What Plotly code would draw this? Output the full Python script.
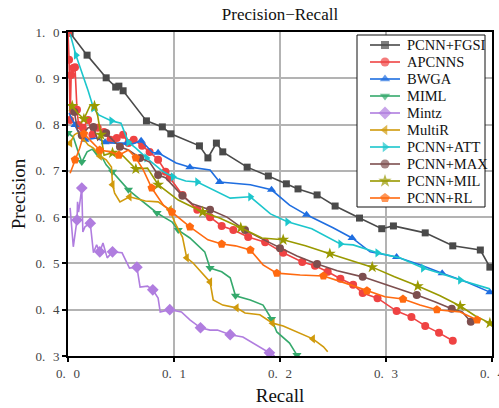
import plotly.graph_objects as go

# ---------------- data ----------------
recall_fgsi = [0.002, 0.018, 0.036, 0.045, 0.048, 0.052, 0.074, 0.089, 0.097, 0.124, 0.132, 0.140,
               0.146, 0.169, 0.189, 0.206, 0.217, 0.235, 0.252, 0.275, 0.296, 0.307, 0.337, 0.363,
               0.389, 0.398]
precision_fgsi = [0.998, 0.950, 0.901, 0.881, 0.883, 0.873, 0.808, 0.795, 0.780, 0.754, 0.728, 0.760,
                  0.741, 0.708, 0.689, 0.672, 0.661, 0.648, 0.624, 0.598, 0.575, 0.581, 0.566, 0.538,
                  0.529, 0.492]

recall_apcnns = [0.000, 0.001, 0.002, 0.003, 0.005, 0.0066, 0.0085, 0.010, 0.014, 0.019, 0.023, 0.028,
                 0.034, 0.040, 0.046, 0.052, 0.057, 0.062, 0.070, 0.077, 0.085, 0.092, 0.096, 0.108,
                 0.122, 0.134, 0.145, 0.156, 0.170, 0.186, 0.203, 0.221, 0.233, 0.245, 0.257, 0.269,
                 0.278, 0.292, 0.310, 0.324, 0.337, 0.350, 0.363]
precision_apcnns = [0.998, 0.940, 0.810, 0.907, 0.922, 0.924, 0.832, 0.799, 0.793, 0.810, 0.778, 0.793,
                    0.784, 0.767, 0.771, 0.778, 0.760, 0.767, 0.754, 0.741, 0.724, 0.698, 0.685, 0.648,
                    0.616, 0.600, 0.581, 0.572, 0.557, 0.546, 0.523, 0.503, 0.495, 0.482, 0.467, 0.454,
                    0.436, 0.425, 0.397, 0.384, 0.365, 0.350, 0.333]

recall_bwga = [0.001, 0.0066, 0.011, 0.016, 0.027, 0.035, 0.044, 0.056, 0.061, 0.069, 0.080, 0.085,
               0.102, 0.115, 0.134, 0.143, 0.172, 0.192, 0.209, 0.225, 0.250, 0.268, 0.285, 0.310,
               0.332, 0.353, 0.376, 0.398]
precision_bwga = [0.825, 0.799, 0.778, 0.767, 0.771, 0.762, 0.760, 0.760, 0.758, 0.765, 0.739, 0.739,
                  0.717, 0.708, 0.702, 0.676, 0.670, 0.659, 0.626, 0.605, 0.577, 0.555, 0.525, 0.514,
                  0.497, 0.479, 0.460, 0.438]

recall_miml = [0.000, 0.005, 0.009, 0.013, 0.018, 0.023, 0.027, 0.032, 0.036, 0.042, 0.047, 0.051,
               0.057, 0.065, 0.075, 0.084, 0.092, 0.098, 0.104, 0.115, 0.129, 0.134, 0.145, 0.153,
               0.158, 0.172, 0.184, 0.192, 0.197, 0.209, 0.216]
precision_miml = [0.782, 0.773, 0.745, 0.719, 0.741, 0.747, 0.741, 0.730, 0.713, 0.698, 0.685, 0.674,
                  0.659, 0.644, 0.626, 0.609, 0.598, 0.590, 0.572, 0.555, 0.525, 0.490, 0.482, 0.469,
                  0.430, 0.421, 0.410, 0.380, 0.352, 0.328, 0.302]

recall_mintz = [0.002, 0.005, 0.0085, 0.009, 0.010, 0.013, 0.014, 0.016, 0.021, 0.024, 0.027, 0.030,
                0.033, 0.037, 0.042, 0.051, 0.058, 0.065, 0.068, 0.075, 0.080, 0.085, 0.087, 0.096,
                0.107, 0.115, 0.125, 0.134, 0.141, 0.153, 0.165, 0.178, 0.190, 0.195]
precision_mintz = [0.620, 0.536, 0.594, 0.633, 0.611, 0.663, 0.568, 0.579, 0.587, 0.523, 0.540, 0.525,
                   0.544, 0.512, 0.525, 0.523, 0.490, 0.492, 0.449, 0.451, 0.443, 0.425, 0.395, 0.400,
                   0.395, 0.378, 0.361, 0.356, 0.356, 0.346, 0.341, 0.324, 0.307, 0.300]

recall_multir = [0.000, 0.002, 0.006, 0.009, 0.014, 0.019, 0.024, 0.030, 0.036, 0.041, 0.042, 0.044,
                 0.049, 0.058, 0.073, 0.085, 0.096, 0.101, 0.108, 0.112, 0.118, 0.125, 0.134, 0.137,
                 0.146, 0.159, 0.167, 0.181, 0.193, 0.203, 0.219, 0.231, 0.241, 0.245]
precision_multir = [0.756, 0.760, 0.778, 0.782, 0.771, 0.756, 0.749, 0.732, 0.724, 0.708, 0.670, 0.652,
                    0.633, 0.644, 0.635, 0.633, 0.616, 0.587, 0.557, 0.512, 0.501, 0.482, 0.460, 0.421,
                    0.410, 0.404, 0.393, 0.389, 0.371, 0.365, 0.350, 0.337, 0.320, 0.309]

recall_att = [0.002, 0.0075, 0.019, 0.024, 0.029, 0.041, 0.050, 0.057, 0.064, 0.074, 0.090, 0.099,
              0.111, 0.122, 0.153, 0.172, 0.191, 0.207, 0.230, 0.257, 0.269, 0.292, 0.313, 0.335,
              0.351, 0.370, 0.398]
precision_att = [0.996, 0.950, 0.873, 0.836, 0.821, 0.808, 0.803, 0.762, 0.749, 0.728, 0.698, 0.687,
                 0.678, 0.676, 0.641, 0.644, 0.607, 0.590, 0.575, 0.542, 0.540, 0.523, 0.512, 0.490,
                 0.479, 0.464, 0.445]

recall_max = [0.002, 0.006, 0.009, 0.013, 0.019, 0.024, 0.028, 0.036, 0.042, 0.049, 0.057, 0.068,
              0.077, 0.085, 0.092, 0.108, 0.117, 0.134, 0.150, 0.167, 0.183, 0.200, 0.216, 0.235,
              0.254, 0.278, 0.304, 0.329, 0.346, 0.362, 0.372, 0.380]
precision_max = [0.840, 0.827, 0.788, 0.777, 0.793, 0.795, 0.767, 0.782, 0.767, 0.752, 0.745, 0.728,
                 0.719, 0.691, 0.685, 0.646, 0.629, 0.616, 0.600, 0.572, 0.553, 0.533, 0.516, 0.499,
                 0.484, 0.471, 0.451, 0.432, 0.417, 0.402, 0.395, 0.374]

recall_mil = [0.004, 0.009, 0.015, 0.021, 0.025, 0.028, 0.031, 0.034, 0.042, 0.052, 0.064, 0.075,
              0.085, 0.104, 0.127, 0.143, 0.163, 0.183, 0.203, 0.224, 0.247, 0.266, 0.287, 0.308,
              0.330, 0.351, 0.370, 0.384, 0.398]
precision_mil = [0.840, 0.825, 0.812, 0.842, 0.840, 0.819, 0.778, 0.734, 0.739, 0.732, 0.704, 0.706,
                 0.670, 0.637, 0.611, 0.598, 0.577, 0.555, 0.551, 0.538, 0.521, 0.508, 0.492, 0.471,
                 0.451, 0.430, 0.408, 0.387, 0.371]

recall_rl = [0.002, 0.0066, 0.011, 0.015, 0.023, 0.030, 0.040, 0.048, 0.057, 0.064, 0.071, 0.079,
             0.090, 0.098, 0.108, 0.115, 0.132, 0.145, 0.158, 0.172, 0.184, 0.197, 0.219, 0.241,
             0.261, 0.282, 0.299, 0.316, 0.332, 0.348, 0.370, 0.386]
precision_rl = [0.695, 0.724, 0.749, 0.780, 0.762, 0.745, 0.741, 0.734, 0.745, 0.728, 0.702, 0.663,
                0.626, 0.611, 0.594, 0.579, 0.551, 0.542, 0.538, 0.529, 0.497, 0.479, 0.475, 0.473,
                0.458, 0.441, 0.428, 0.423, 0.410, 0.400, 0.395, 0.378]

series_names = ["PCNN+FGSI", "APCNNS", "BWGA", "MIML", "Mintz", "MultiR",
                "PCNN+ATT", "PCNN+MAX", "PCNN+MIL", "PCNN+RL"]
series_recall = [recall_fgsi, recall_apcnns, recall_bwga, recall_miml, recall_mintz, recall_multir,
                 recall_att, recall_max, recall_mil, recall_rl]
series_precision = [precision_fgsi, precision_apcnns, precision_bwga, precision_miml, precision_mintz,
                    precision_multir, precision_att, precision_max, precision_mil, precision_rl]

x_ticks = [0.0, 0.1, 0.2, 0.3, 0.4]
x_tick_labels = ["0.\u2004 0", "0.\u2004 1", "0.\u2004 2", "0.\u2004 3", "0.\u2004 4"]
y_ticks = [0.3, 0.4, 0.5, 0.6, 0.7, 0.8, 0.9, 1.0]
y_tick_labels = ["0.\u2004 3", "0.\u2004 4", "0.\u2004 5", "0.\u2004 6", "0.\u2004 7",
                 "0.\u2004 8", "0.\u2004 9", "1.\u2004 0"]

# ---------------- styles ----------------
styles = {
    "PCNN+FGSI": dict(color="#4a4a4a", symbol="square", size=7, every=1),
    "APCNNS": dict(color="#ef4343", symbol="circle", size=8, every=1),
    "BWGA": dict(color="#1f6ee0", symbol="triangle-up", size=8, every=2),
    "MIML": dict(color="#35a96c", symbol="triangle-down", size=8, every=3),
    "Mintz": dict(color="#b07ddf", symbol="diamond", size=9, every=3),
    "MultiR": dict(color="#d09a0c", symbol="triangle-left", size=8, every=3),
    "PCNN+ATT": dict(color="#1cc6cc", symbol="triangle-right", size=8, every=2),
    "PCNN+MAX": dict(color="#7d4f4f", symbol="circle", size=8, every=2),
    "PCNN+MIL": dict(color="#999900", symbol="star", size=9, every=2),
    "PCNN+RL": dict(color="#ff6a10", symbol="pentagon", size=9, every=2),
}

FONT = "Liberation Serif, Times New Roman, serif"
W, H = 499, 408
ML, MR, MT, MB = 68, 7, 32, 52
PW, PH = W - ML - MR, H - MT - MB


def px_to_paper_x(px):
    return (px - ML) / PW


def px_to_paper_y(py):
    return (H - MB - py) / PH


fig = go.Figure()
for name, rx, py in zip(series_names, series_recall, series_precision):
    st = styles[name]
    n_markers = -(-len(rx) // st["every"])
    fig.add_trace(go.Scatter(
        x=rx, y=py, name=name, mode="lines+markers", showlegend=False,
        line=dict(color=st["color"], width=1.6),
        marker=dict(symbol=st["symbol"], size=st["size"], color=st["color"],
                    line=dict(width=0), maxdisplayed=n_markers),
        cliponaxis=True,
    ))

# ---------------- legend (drawn on an overlay axis in paper-like units) ----------------
box_l, box_r, box_t, box_b = 357, 485, 35, 207
row0, row_step = 45, 17
sw_l, sw_r, txt_x = 370, 400, 405

fig.add_trace(go.Scatter(
    x=[px_to_paper_x(box_l), px_to_paper_x(box_r), px_to_paper_x(box_r), px_to_paper_x(box_l),
       px_to_paper_x(box_l)],
    y=[px_to_paper_y(box_t), px_to_paper_y(box_t), px_to_paper_y(box_b), px_to_paper_y(box_b),
       px_to_paper_y(box_t)],
    mode="lines", fill="toself", fillcolor="white", line=dict(color="#111", width=1),
    xaxis="x2", yaxis="y2", showlegend=False, hoverinfo="skip", cliponaxis=False,
))
for i, name in enumerate(series_names):
    st = styles[name]
    yy = px_to_paper_y(row0 + row_step * i)
    fig.add_trace(go.Scatter(
        x=[px_to_paper_x(sw_l), px_to_paper_x((sw_l + sw_r) / 2), px_to_paper_x(sw_r)],
        y=[yy, yy, yy], mode="lines+markers",
        line=dict(color=st["color"], width=1.6),
        marker=dict(symbol=st["symbol"], size=[0, st["size"] + 1, 0], color=st["color"],
                    line=dict(width=0)),
        xaxis="x2", yaxis="y2", showlegend=False, hoverinfo="skip", cliponaxis=False,
    ))
    fig.add_annotation(
        x=px_to_paper_x(txt_x), y=yy, xref="paper", yref="paper", text=name,
        showarrow=False, xanchor="left", yanchor="middle",
        font=dict(family=FONT, size=14.5, color="#111"),
    )

axis_common = dict(
    showgrid=True, gridcolor="#b3b3b3", gridwidth=1.5,
    showline=True, linecolor="black", linewidth=2, mirror=True,
    ticks="outside", ticklen=4, tickwidth=1.5, tickcolor="black",
    tickfont=dict(family=FONT, size=13, color="#444"),
    ticklabeloverflow="allow",
    automargin=False, zeroline=False,
)

fig.update_layout(
    width=W, height=H,
    margin=dict(l=ML, r=MR, t=MT, b=MB, autoexpand=False),
    paper_bgcolor="white", plot_bgcolor="white",
    font=dict(family=FONT, color="#222", size=13),
    title=dict(text="Precision\u2212Recall", x=0.5, xref="paper", xanchor="center",
               y=1 - 14 / H, yref="container", yanchor="middle",
               font=dict(family=FONT, size=17, color="#111")),
    showlegend=False,
    xaxis=dict(range=[0, 0.4], tickvals=x_ticks, ticktext=x_tick_labels,
               title=dict(text="Recall", font=dict(family=FONT, size=19, color="#111"), standoff=9),
               **axis_common),
    yaxis=dict(range=[0.3, 1.0], tickvals=y_ticks, ticktext=y_tick_labels,
               title=dict(text="Precision", font=dict(family=FONT, size=19, color="#111"), standoff=5),
               **axis_common),
    xaxis2=dict(overlaying="x", range=[0, 1], visible=False, fixedrange=True),
    yaxis2=dict(overlaying="y", range=[0, 1], visible=False, fixedrange=True),
)

fig.write_html("out.html",
               config={"displayModeBar": False},
               post_script="document.body.style.margin='0';document.body.style.padding='0';")
